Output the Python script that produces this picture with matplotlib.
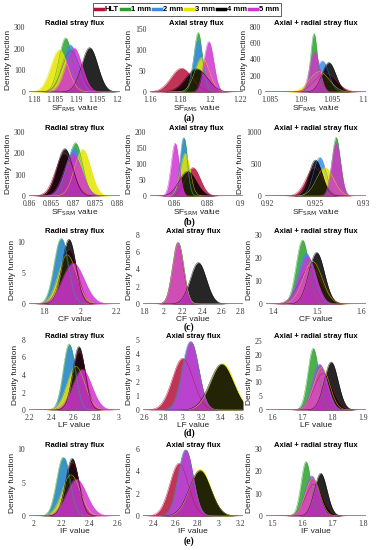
import numpy as np
import matplotlib
matplotlib.use('Agg')
import matplotlib.pyplot as plt
from matplotlib.lines import Line2D

# series order: HLT, 1 mm, 2 mm, 3 mm, 4 mm, 5 mm
series = ['HLT', '1 mm', '2 mm', '3 mm', '4 mm', '5 mm']
colors = ['#b5123a', '#2ca02c', '#3a8ee6', '#e5e500', '#000000', '#d035d0']

panel_titles = ['Radial stray flux', 'Axial stray flux', 'Axial + radial stray flux']
row_xlabels = ['SF$_{\\rm RMS}$ value', 'SF$_{\\rm SRM}$ value', 'CF value', 'LF value', 'IF value']
row_tags = ['(a)', '(b)', '(c)', '(d)', '(e)']

# mean / std of each density (radial, axial, axial+radial)
sf_rms_mu = [[1.1888, 1.1875, 1.1886, 1.1860, 1.1933, 1.1895],
             [1.1810, 1.1921, 1.1920, 1.1947, 1.1910, 1.1992],
             [1.0940, 1.09216, 1.09348, 1.0930, 1.09454, 1.09226]]
sf_rms_sd = [[0.0021, 0.0016, 0.00183, 0.00205, 0.00195, 0.00196],
             [0.0070, 0.0028, 0.0032, 0.0048, 0.0072, 0.0033],
             [0.0017, 0.000556, 0.00104, 0.0016, 0.0011, 0.00081]]

sf_srm_mu = [[0.8680, 0.8705, 0.8702, 0.87213, 0.8681, 0.86996],
             [0.8712, 0.8658, 0.8655, 0.8665, 0.8680, 0.8604],
             [0.9249, 0.92717, 0.92545, 0.9260, 0.9250, 0.92717]]
sf_srm_sd = [[0.0020, 0.0016, 0.00177, 0.00182, 0.0018, 0.0020],
             [0.0045, 0.0022, 0.0022, 0.0030, 0.0052, 0.00242],
             [0.0009, 0.000435, 0.00066, 0.0009, 0.00071, 0.00048]]

cf_mu = [[1.940, 1.895, 1.899, 1.930, 1.939, 1.962],
         [2.150, 2.155, 2.155, 2.155, 2.362, 2.152],
         [1.485, 1.467, 1.475, 1.490, 1.499, 1.478]]
cf_sd = [[0.045, 0.0377, 0.0376, 0.050, 0.038, 0.060],
         [0.056, 0.0565, 0.056, 0.057, 0.083, 0.0567],
         [0.025, 0.01434, 0.018, 0.0216, 0.0178, 0.0193]]

lf_mu = [[2.650, 2.559, 2.565, 2.620, 2.647, 2.676],
         [3.003, 3.090, 3.080, 3.420, 3.409, 3.090],
         [1.770, 1.737, 1.757, 1.765, 1.796, 1.759]]
lf_sd = [[0.060, 0.0529, 0.0543, 0.080, 0.0551, 0.0858],
         [0.108, 0.082, 0.082, 0.120, 0.122, 0.0817],
         [0.030, 0.0179, 0.024, 0.026, 0.023, 0.0245]]

if_mu = [[2.280, 2.212, 2.219, 2.270, 2.278, 2.308],
         [2.635, 2.695, 2.695, 2.830, 2.827, 2.699],
         [1.640, 1.613, 1.632, 1.635, 1.6615, 1.632]]
if_sd = [[0.050, 0.0458, 0.0458, 0.065, 0.0464, 0.0723],
         [0.0845, 0.0675, 0.0675, 0.095, 0.098, 0.0675],
         [0.028, 0.0164, 0.0222, 0.0236, 0.0209, 0.0227]]

all_mu = [sf_rms_mu, sf_srm_mu, cf_mu, lf_mu, if_mu]
all_sd = [sf_rms_sd, sf_srm_sd, cf_sd, lf_sd, if_sd]

# axis ticks per panel
xticks = [[[1.18, 1.185, 1.19, 1.195, 1.2], [1.16, 1.18, 1.2, 1.22], [1.085, 1.09, 1.095, 1.1]],
          [[0.86, 0.865, 0.87, 0.875, 0.88], [0.86, 0.88, 0.9], [0.92, 0.925, 0.93]],
          [[1.8, 2, 2.2], [1.8, 2, 2.2, 2.4, 2.6, 2.8], [1.4, 1.5, 1.6]],
          [[2.2, 2.4, 2.6, 2.8, 3], [2.6, 2.8, 3, 3.2, 3.4, 3.6], [1.6, 1.7, 1.8, 1.9]],
          [[2, 2.2, 2.4, 2.6], [2.4, 2.6, 2.8, 3, 3.2], [1.5, 1.6, 1.7, 1.8]]]
yticks = [[[0, 100, 200, 300], [0, 50, 100, 150], [0, 200, 400, 600, 800]],
          [[0, 100, 200, 300], [0, 50, 100, 150, 200], [0, 500, 1000]],
          [[0, 5, 10], [0, 2, 4, 6, 8], [0, 10, 20, 30]],
          [[0, 2, 4, 6, 8], [0, 1, 2, 3, 4, 5], [0, 5, 10, 15, 20, 25]],
          [[0, 5, 10], [0, 2, 4, 6], [0, 10, 20, 30]]]

# layout (pixels / limits)
xlims = [[(1.1787, 1.2006), (1.16, 1.222), (1.0843, 1.1005)],
         [(0.86, 0.8806), (0.8451, 0.9017), (0.9197, 0.9303)],
         [(1.7205, 2.218), (1.79, 2.824), (1.3843, 1.611)],
         [(2.2, 3.015), (2.59, 3.633), (1.5812, 1.911)],
         [(1.97, 2.619), (2.306, 3.221), (1.481, 1.811)]]
ylims = [[300, 156, 800], [300, 200, 1000], [11.2, 8, 30], [8, 5, 25.3], [10, 6, 30]]
row_y = [(27, 92), (132, 196), (235, 304), (340, 410), (449, 516)]
col_x = [[(29, 120), (150, 243), (265, 366)],
         [(29, 120), (150, 243), (265, 366)],
         [(29, 120), (143, 243), (266, 366)],
         [(29, 120), (143, 243), (266, 366)],
         [(29, 120), (143, 243), (266, 366)]]
tag_y = [118, 222, 327, 433, 541]

W, H = 378, 550
fig = plt.figure(figsize=(W / 100, H / 100), dpi=100)

tick_font = {'family': 'Liberation Serif', 'size': 5.5}

for r in range(5):
    y0, y1 = row_y[r]
    for c in range(3):
        x0, x1 = col_x[r][c]
        ax = fig.add_axes([x0 / W, 1 - y1 / H, (x1 - x0) / W, (y1 - y0) / H])
        lo, hi = xlims[r][c]
        x = np.linspace(lo, hi, 600)
        for k in range(6):
            mu = all_mu[r][c][k]
            sd = all_sd[r][c][k]
            y = np.exp(-0.5 * ((x - mu) / sd) ** 2) / (sd * np.sqrt(2 * np.pi))
            ax.fill_between(x, 0, y, color=colors[k], alpha=0.85, lw=0)
            ax.plot(x, y, color=colors[k], lw=0.3, alpha=0.9)
        ax.set_xlim(lo, hi)
        ax.set_ylim(0, ylims[r][c])
        ax.set_xticks(xticks[r][c])
        ax.set_yticks(yticks[r][c])
        ax.set_xticklabels([('%g' % v) for v in xticks[r][c]], fontdict=tick_font)
        ax.set_yticklabels([('%g' % v) for v in yticks[r][c]], fontdict=tick_font)
        ax.tick_params(length=0, colors='#333333')
        ax.tick_params(axis='x', pad=2.6)
        ax.tick_params(axis='y', pad=2.6)
        for s in ax.spines.values():
            s.set_visible(False)
        ax.set_title(panel_titles[c], fontsize=5.5, fontweight='bold',
                     family='Liberation Sans', pad=1.5)
        ax.set_xlabel(row_xlabels[r], fontsize=6, family='Liberation Sans',
                      labelpad=0, color='#222222')
        ax.set_ylabel('Density function', fontsize=6, family='Liberation Sans',
                      labelpad=1.5, color='#222222')
    fig.text(189 / W, 1 - tag_y[r] / H, row_tags[r], ha='center', va='center',
             fontsize=7, fontweight='bold', family='Liberation Serif')

handles = [Line2D([0], [0], color=col, lw=2.5) for col in colors]
leg = fig.legend(handles, series, loc='center', bbox_to_anchor=(187 / W, 1 - 9.7 / H),
                 ncol=6, prop={'family': 'Liberation Sans', 'size': 5.5, 'weight': 'bold'},
                 handlelength=1.0, handletextpad=0.25, columnspacing=0.3,
                 borderpad=0.35, fancybox=False, edgecolor='#444444', framealpha=1)
leg.get_frame().set_linewidth(0.6)

fig.savefig('out.png', dpi=100)
